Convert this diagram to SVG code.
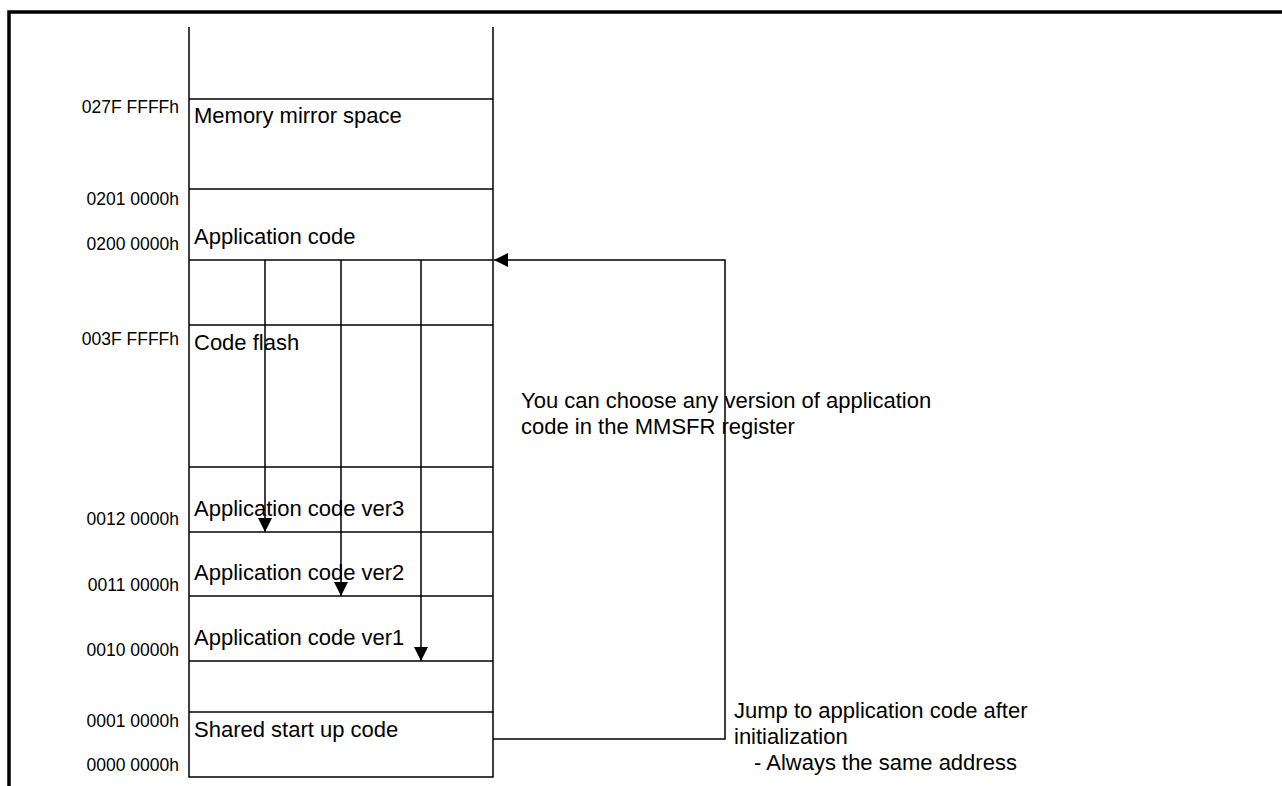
<svg xmlns="http://www.w3.org/2000/svg" width="1282" height="786" viewBox="0 0 1282 786">
<style>
.ln{stroke:#000;stroke-width:1.5;fill:none}
.lbl{font-family:"Liberation Sans",Arial,sans-serif;font-size:22px;fill:#000}
.adr{font-family:"Liberation Sans",Arial,sans-serif;font-size:17.5px;fill:#000;text-anchor:end}
</style>
<defs>
<marker id="ah" viewBox="0 0 14 14" refX="14" refY="7" markerWidth="14" markerHeight="14" markerUnits="userSpaceOnUse" orient="auto">
<path d="M0,0 L14,7 L0,14 Z" fill="#000"/>
</marker>
</defs>
<rect width="1282" height="786" fill="#fff"/>
<g id="frame">
<path d="M9,786 V12 H1282" stroke="#000" stroke-width="3.5" fill="none"/>
</g>
<g id="memory-map">
<path class="ln" d="M189,27 V777 H493 V27"/>
<line class="ln" x1="189" y1="99" x2="493" y2="99"/>
<line class="ln" x1="189" y1="189" x2="493" y2="189"/>
<line class="ln" x1="189" y1="260" x2="493" y2="260"/>
<line class="ln" x1="189" y1="325" x2="493" y2="325"/>
<line class="ln" x1="189" y1="467" x2="493" y2="467"/>
<line class="ln" x1="189" y1="532" x2="493" y2="532"/>
<line class="ln" x1="189" y1="596" x2="493" y2="596"/>
<line class="ln" x1="189" y1="661" x2="493" y2="661"/>
<line class="ln" x1="189" y1="712" x2="493" y2="712"/>
</g>
<g id="n-mirror"><text class="lbl" x="194" y="123">Memory mirror space</text></g>
<g id="n-app"><text class="lbl" x="194" y="244">Application code</text></g>
<g id="n-flash"><text class="lbl" x="194" y="350">Code flash</text></g>
<g id="n-ver3"><text class="lbl" x="194" y="516">Application code ver3</text></g>
<g id="n-ver2"><text class="lbl" x="194" y="580">Application code ver2</text></g>
<g id="n-ver1"><text class="lbl" x="194" y="645">Application code ver1</text></g>
<g id="n-shared"><text class="lbl" x="194" y="737">Shared start up code</text></g>
<g id="addresses">
<text class="adr" x="179" y="113">027F FFFFh</text>
<text class="adr" x="179" y="205">0201 0000h</text>
<text class="adr" x="179" y="250">0200 0000h</text>
<text class="adr" x="179" y="345">003F FFFFh</text>
<text class="adr" x="179" y="525">0012 0000h</text>
<text class="adr" x="179" y="591">0011 0000h</text>
<text class="adr" x="179" y="656">0010 0000h</text>
<text class="adr" x="179" y="727">0001 0000h</text>
<text class="adr" x="179" y="771">0000 0000h</text>
</g>
<g id="connectors">
<line class="ln" x1="265" y1="260" x2="265" y2="532" marker-end="url(#ah)"/>
<line class="ln" x1="341" y1="260" x2="341" y2="596" marker-end="url(#ah)"/>
<line class="ln" x1="421" y1="260" x2="421" y2="661" marker-end="url(#ah)"/>
<path class="ln" d="M493,739 H725 V260 H494" marker-end="url(#ah)"/>
</g>
<g id="note-choose">
<text class="lbl" x="521" y="408">You can choose any version of application</text>
<text class="lbl" x="521" y="434">code in the MMSFR register</text>
</g>
<g id="note-jump">
<text class="lbl" x="734" y="718">Jump to application code after</text>
<text class="lbl" x="734" y="744">initialization</text>
<text class="lbl" x="754" y="770">- Always the same address</text>
</g>
</svg>
